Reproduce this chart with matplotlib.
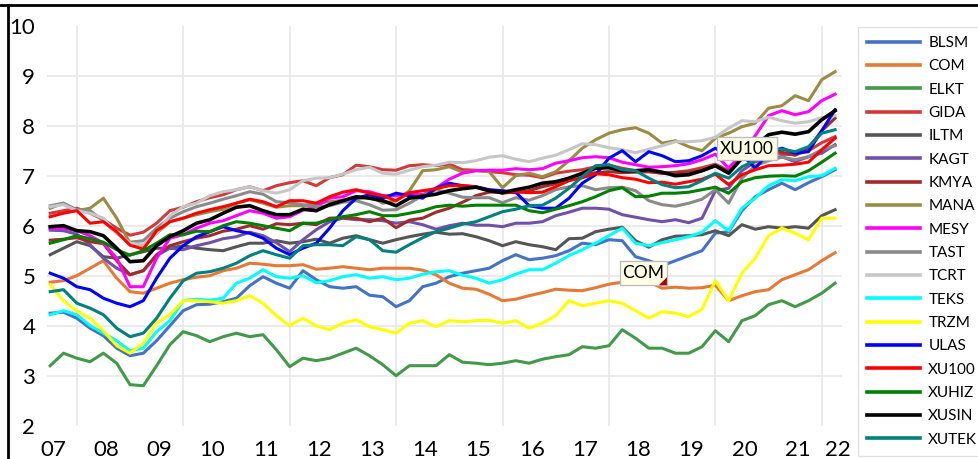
import numpy as np
import matplotlib
matplotlib.use("Agg")
import matplotlib.pyplot as plt
from matplotlib.lines import Line2D
from matplotlib.patches import Rectangle, Polygon

plt.rcParams['font.family'] = ['Lato', 'DejaVu Sans']

# quarterly readings, mid-2007 .. spring 2022
years = 2007.5 + 0.25 * np.arange(60)

BLSM = [4.25, 4.27, 4.15, 3.95, 3.8, 3.55, 3.4, 3.45, 3.7, 4.0, 4.3, 4.42, 4.43, 4.48, 4.55, 4.8, 4.98, 4.85, 4.75, 5.1,
        4.92, 4.78, 4.75, 4.78, 4.61, 4.58, 4.38, 4.5, 4.78, 4.85, 4.98, 5.05, 5.1, 5.15, 5.3, 5.42, 5.32, 5.35, 5.4, 5.5,
        5.65, 5.62, 5.72, 5.7, 5.38, 5.3, 5.2, 5.3, 5.4, 5.5, 5.85, 5.88, 6.3, 6.58, 6.72, 6.85, 6.72, 6.86, 6.98, 7.12]
COM = [4.87, 4.9, 5.0, 5.15, 5.3, 4.95, 4.68, 4.65, 4.75, 4.85, 4.92, 4.97, 5.0, 5.1, 5.15, 5.25, 5.23, 5.2, 5.2, 5.22,
       5.13, 5.15, 5.18, 5.15, 5.12, 5.15, 5.15, 5.15, 5.11, 5.02, 4.85, 4.75, 4.73, 4.63, 4.5, 4.53, 4.6, 4.66, 4.73, 4.71,
       4.7, 4.76, 4.83, 4.87, 4.88, 4.88, 4.75, 4.77, 4.75, 4.76, 4.81, 4.5, 4.6, 4.68, 4.72, 4.92, 5.02, 5.12, 5.3, 5.46]
ELKT = [3.2, 3.45, 3.35, 3.28, 3.45, 3.25, 2.82, 2.8, 3.2, 3.62, 3.88, 3.8, 3.68, 3.78, 3.85, 3.78, 3.82, 3.52, 3.18, 3.35,
        3.3, 3.35, 3.45, 3.55, 3.4, 3.22, 3.0, 3.2, 3.2, 3.2, 3.42, 3.27, 3.25, 3.22, 3.25, 3.3, 3.25, 3.33, 3.38, 3.42,
        3.58, 3.55, 3.6, 3.92, 3.75, 3.55, 3.55, 3.45, 3.45, 3.58, 3.9, 3.68, 4.1, 4.2, 4.42, 4.5, 4.38, 4.5, 4.65, 4.85]
GIDA = [6.25, 6.3, 6.35, 6.25, 6.12, 5.95, 5.81, 5.87, 6.05, 6.3, 6.37, 6.48, 6.56, 6.62, 6.72, 6.78, 6.7, 6.8, 6.86, 6.9,
        6.8, 6.96, 7.02, 7.21, 7.18, 7.12, 7.11, 7.2, 7.22, 7.2, 7.23, 7.12, 7.11, 7.08, 7.06, 7.02, 7.01, 6.96, 7.05, 7.09,
        7.12, 7.18, 7.21, 7.15, 7.1, 7.08, 7.05, 7.07, 7.1, 7.16, 7.23, 7.1, 7.4, 7.48, 7.5, 7.43, 7.42, 7.5, 7.66, 7.78]
ILTM = [5.42, 5.55, 5.68, 5.6, 5.38, 5.35, 5.42, 5.48, 5.55, 5.55, 5.6, 5.55, 5.52, 5.5, 5.58, 5.65, 5.65, 5.7, 5.65, 5.68,
        5.73, 5.65, 5.75, 5.8, 5.72, 5.65, 5.72, 5.78, 5.83, 5.87, 5.83, 5.84, 5.78, 5.7, 5.6, 5.68, 5.62, 5.58, 5.52, 5.74,
        5.75, 5.88, 5.93, 5.97, 5.7, 5.57, 5.72, 5.79, 5.8, 5.82, 5.9, 5.8, 6.02, 5.93, 5.98, 5.95, 5.98, 5.95, 6.2, 6.32]
KAGT = [5.91, 5.9, 5.83, 5.62, 5.35, 5.15, 5.02, 5.1, 5.4, 5.55, 5.52, 5.6, 5.66, 5.74, 5.78, 5.87, 5.8, 5.66, 5.48, 5.72,
        5.92, 6.08, 6.15, 6.12, 6.12, 6.1, 6.05, 6.08, 6.02, 5.93, 6.0, 6.05, 6.01, 6.01, 5.98, 6.05, 6.05, 6.08, 6.2, 6.27,
        6.35, 6.35, 6.33, 6.22, 6.17, 6.12, 6.08, 6.12, 6.06, 6.15, 6.7, 6.75, 7.1, 7.28, 7.35, 7.38, 7.28, 7.38, 7.45, 7.62]
KMYA = [5.71, 5.73, 5.76, 5.68, 5.64, 5.3, 5.02, 5.1, 5.42, 5.6, 5.68, 5.75, 5.8, 5.89, 5.93, 6.0, 5.93, 6.04, 6.02, 6.05,
        6.02, 6.15, 6.16, 6.15, 6.08, 6.15, 5.96, 6.11, 6.15, 6.27, 6.35, 6.47, 6.6, 6.67, 6.68, 6.66, 6.7, 6.78, 6.84, 6.95,
        7.03, 7.06, 7.08, 7.06, 7.07, 7.08, 7.05, 7.06, 7.07, 7.1, 7.2, 7.08, 7.5, 7.52, 7.58, 7.47, 7.41, 7.55, 7.9, 8.15]
MANA = [6.35, 6.45, 6.3, 6.35, 6.55, 6.15, 5.65, 5.6, 5.85, 6.08, 6.15, 6.22, 6.28, 6.33, 6.45, 6.52, 6.45, 6.37, 6.4, 6.4,
        6.45, 6.48, 6.51, 6.52, 6.6, 6.45, 6.5, 6.7, 7.1, 7.12, 7.18, 7.07, 7.1, 7.08, 6.76, 7.0, 7.05, 6.98, 7.08, 7.3,
        7.55, 7.72, 7.85, 7.92, 7.96, 7.85, 7.65, 7.7, 7.58, 7.5, 7.75, 7.85, 7.98, 8.05, 8.35, 8.4, 8.6, 8.5, 8.92, 9.08]
MESY = [5.95, 5.95, 5.9, 5.8, 5.65, 5.35, 4.78, 4.78, 5.35, 5.75, 5.82, 5.95, 6.05, 6.1, 6.2, 6.3, 6.25, 6.15, 6.18, 6.31,
        6.38, 6.55, 6.58, 6.7, 6.68, 6.6, 6.6, 6.65, 6.62, 6.75, 6.93, 7.05, 7.1, 7.11, 7.11, 7.14, 7.12, 7.14, 7.25, 7.3,
        7.36, 7.38, 7.36, 7.27, 7.22, 7.17, 7.18, 7.2, 7.24, 7.32, 7.43, 7.15, 7.45, 7.8, 8.2, 8.3, 8.22, 8.28, 8.5, 8.63]
TAST = [6.4, 6.45, 6.32, 6.3, 6.1, 5.85, 5.67, 5.7, 5.95, 6.15, 6.28, 6.38, 6.45, 6.53, 6.6, 6.68, 6.63, 6.48, 6.46, 6.42,
        6.38, 6.4, 6.47, 6.5, 6.42, 6.31, 6.32, 6.45, 6.6, 6.72, 6.65, 6.57, 6.56, 6.56, 6.46, 6.56, 6.51, 6.6, 6.72, 6.78,
        6.8, 6.72, 6.76, 6.77, 6.7, 6.5, 6.42, 6.39, 6.45, 6.53, 6.72, 6.45, 6.95, 7.2, 7.3, 7.37, 7.32, 7.38, 7.52, 7.6]
TCRT = [6.38, 6.42, 6.3, 6.25, 6.15, 5.85, 5.65, 5.62, 5.85, 6.2, 6.38, 6.45, 6.6, 6.68, 6.72, 6.78, 6.7, 6.65, 6.72, 6.9,
        6.95, 6.96, 7.03, 7.12, 7.17, 7.05, 7.03, 7.11, 7.18, 7.21, 7.27, 7.26, 7.3, 7.37, 7.4, 7.33, 7.28, 7.35, 7.41, 7.52,
        7.64, 7.62, 7.56, 7.52, 7.46, 7.53, 7.6, 7.68, 7.68, 7.7, 7.77, 7.95, 8.1, 8.08, 8.17, 8.1, 8.05, 8.08, 8.16, 8.2]
TEKS = [4.22, 4.3, 4.22, 4.0, 3.85, 3.7, 3.5, 3.55, 3.88, 4.1, 4.5, 4.53, 4.51, 4.55, 4.85, 4.95, 5.12, 4.98, 4.95, 5.0,
        4.86, 4.9, 4.98, 5.02, 4.95, 4.98, 4.92, 4.95, 5.03, 5.08, 5.1, 5.01, 4.95, 4.85, 4.92, 5.03, 5.12, 5.12, 5.25, 5.4,
        5.52, 5.65, 5.8, 5.95, 5.65, 5.6, 5.66, 5.72, 5.78, 5.87, 6.1, 5.9, 6.35, 6.55, 6.8, 6.92, 6.9, 6.98, 7.0, 7.15]
TRZM = [4.82, 4.5, 4.3, 4.15, 3.9, 3.6, 3.45, 3.65, 4.05, 4.22, 4.5, 4.5, 4.48, 4.45, 4.5, 4.6, 4.45, 4.2, 4.0, 4.15,
        4.0, 3.92, 4.05, 4.12, 3.98, 3.92, 3.85, 4.05, 4.1, 3.98, 4.1, 4.08, 4.1, 4.11, 4.05, 4.1, 3.95, 4.05, 4.2, 4.5,
        4.4, 4.45, 4.5, 4.45, 4.3, 4.15, 4.28, 4.25, 4.18, 4.33, 4.9, 4.5, 5.05, 5.35, 5.8, 5.95, 5.85, 5.72, 6.15, 6.15]
ULAS = [5.05, 4.95, 4.78, 4.72, 4.55, 4.45, 4.38, 4.5, 4.95, 5.35, 5.6, 5.78, 5.88, 5.98, 5.9, 5.85, 5.75, 5.55, 5.42, 5.55,
        5.65, 5.95, 6.3, 6.55, 6.62, 6.55, 6.65, 6.6, 6.55, 6.75, 6.85, 6.8, 6.78, 6.72, 6.7, 6.67, 6.4, 6.35, 6.35, 6.55,
        6.85, 7.02, 7.35, 7.5, 7.28, 7.48, 7.4, 7.28, 7.3, 7.4, 7.55, 7.38, 7.42, 7.15, 7.45, 7.55, 7.45, 7.48, 7.9, 8.32]
XU100 = [6.18, 6.25, 6.3, 6.05, 6.08, 5.88, 5.61, 5.53, 5.9, 6.08, 6.15, 6.25, 6.32, 6.38, 6.45, 6.53, 6.48, 6.38, 6.5, 6.5,
         6.45, 6.58, 6.67, 6.72, 6.65, 6.6, 6.5, 6.66, 6.7, 6.74, 6.8, 6.8, 6.78, 6.7, 6.65, 6.68, 6.66, 6.67, 6.78, 6.9,
         6.96, 7.04, 7.02, 6.96, 6.93, 6.86, 6.87, 6.83, 6.88, 6.93, 7.03, 6.82, 7.02, 7.12, 7.2, 7.21, 7.23, 7.27, 7.52, 7.75]
XUHIZ = [5.65, 5.72, 5.8, 5.74, 5.67, 5.52, 5.41, 5.5, 5.65, 5.82, 5.82, 5.89, 5.88, 6.0, 6.08, 6.05, 6.0, 5.95, 5.9, 6.05,
         6.05, 6.12, 6.18, 6.22, 6.28, 6.2, 6.2, 6.25, 6.3, 6.38, 6.41, 6.39, 6.41, 6.41, 6.41, 6.41, 6.3, 6.26, 6.33, 6.4,
         6.48, 6.58, 6.7, 6.76, 6.58, 6.59, 6.65, 6.65, 6.67, 6.72, 6.77, 6.65, 6.88, 6.96, 6.99, 7.0, 6.99, 7.1, 7.27, 7.45]
XUSIN = [5.98, 6.0, 5.9, 5.88, 5.8, 5.55, 5.28, 5.3, 5.6, 5.78, 5.9, 6.05, 6.12, 6.25, 6.37, 6.4, 6.3, 6.22, 6.22, 6.33,
         6.3, 6.42, 6.5, 6.58, 6.55, 6.5, 6.4, 6.55, 6.59, 6.63, 6.7, 6.74, 6.77, 6.7, 6.66, 6.72, 6.77, 6.85, 6.88, 6.95,
         7.05, 7.15, 7.16, 7.1, 7.1, 7.12, 7.07, 7.0, 7.02, 7.1, 7.2, 7.05, 7.35, 7.6, 7.82, 7.87, 7.83, 7.88, 8.12, 8.3]
XUTEK = [4.68, 4.72, 4.45, 4.35, 4.22, 3.95, 3.78, 3.85, 4.15, 4.55, 4.9, 5.05, 5.08, 5.15, 5.25, 5.4, 5.5, 5.42, 5.35, 5.6,
         5.62, 5.62, 5.6, 5.78, 5.72, 5.5, 5.47, 5.62, 5.76, 5.88, 5.95, 6.03, 6.08, 6.18, 6.28, 6.33, 6.4, 6.41, 6.55, 6.75,
         6.98, 7.2, 7.22, 7.12, 7.1, 6.95, 6.82, 6.76, 6.78, 6.9, 7.05, 6.95, 7.18, 7.3, 7.55, 7.53, 7.48, 7.58, 7.85, 7.92]

names = ['BLSM', 'COM', 'ELKT', 'GIDA', 'ILTM', 'KAGT', 'KMYA', 'MANA', 'MESY',
         'TAST', 'TCRT', 'TEKS', 'TRZM', 'ULAS', 'XU100', 'XUHIZ', 'XUSIN', 'XUTEK']
series = [BLSM, COM, ELKT, GIDA, ILTM, KAGT, KMYA, MANA, MESY,
          TAST, TCRT, TEKS, TRZM, ULAS, XU100, XUHIZ, XUSIN, XUTEK]
colors = ['#4472C4', '#E47A35', '#43994A', '#D23A3A', '#555555', '#6F52A6', '#A02B2B', '#9A8C45', '#FF00FF',
          '#8A8A8A', '#C6C6C6', '#00FFFF', '#FFFF00', '#0000FF', '#FF0000', '#008000', '#000000', '#008080']

year_labels = ['07', '08', '09', '10', '11', '12', '13', '14', '15', '16', '17', '18', '19', '20', '21', '22']

fig = plt.figure(figsize=(9.79, 4.59), dpi=100)
ax = fig.add_axes([47 / 979, 1 - 425.7 / 459, 795 / 979, 400 / 459])

for name, vals, c in zip(names, series, colors):
    lw = 2.6 if name == 'XUSIN' else 2.2
    ax.plot(years, vals, color=c, lw=lw, label=name, solid_joinstyle='round')

ax.set_xlim(2007.44, 2022.38)
ax.set_ylim(2, 10)
for s in ax.spines.values():
    s.set_visible(False)

# grid lines: every unit on y, every second year on x
for v in range(3, 10):
    ax.axhline(v, color='#E8E8E8', lw=1.2, zorder=0)
for yr in range(2008, 2023, 2):
    ax.axvline(yr, color='#E8E8E8', lw=1.2, zorder=0)

ax.set_yticks(range(2, 11))
ax.set_yticklabels([str(v) for v in range(2, 11)])
tick_pos = [2007.55 + i for i in range(15)] + [2022.3]
ax.set_xticks(tick_pos)
ax.set_xticklabels(year_labels)
ax.tick_params(axis='both', length=0, labelsize=16, colors='black')
ax.tick_params(axis='y', pad=8.5)
ax.tick_params(axis='x', pad=10)

# callouts
def callout(x0, x1, y0, y1, txt, marker=False):
    ax.add_patch(Rectangle((x0, y0), x1 - x0, y1 - y0, facecolor='#FFFFE6',
                           edgecolor='#BDBDBD', lw=1, zorder=10))
    ax.text((x0 + x1) / 2, (y0 + y1) / 2, txt, ha='center', va='center',
            fontsize=12.5, zorder=11)
    if marker:
        ax.add_patch(Polygon([(x1, y0), (x1, y0 + 0.16), (x1 - 0.15, y0)],
                             closed=True, facecolor='#B00000', edgecolor='none', zorder=12))

callout(2020.03, 2021.16, 7.31, 7.77, 'XU100')
callout(2018.21, 2019.09, 4.81, 5.29, 'COM', marker=True)

leg = fig.legend(loc='upper left', bbox_to_anchor=(858 / 979, 1 - 27 / 459),
                 fontsize=11, frameon=True, fancybox=False, edgecolor='#D9D9D9',
                 handlelength=3.45, handletextpad=0.55, labelspacing=0.61,
                 borderpad=0.6, borderaxespad=0)
leg.get_frame().set_linewidth(1)
for h in leg.get_lines():
    h.set_linewidth(2.6)

# black frame around the picture
fig.add_artist(Line2D([0, 1], [1 - 5 / 459, 1 - 5 / 459], color='black', lw=2, transform=fig.transFigure))
fig.add_artist(Line2D([8 / 979, 8 / 979], [0, 1 - 5 / 459], color='black', lw=2, transform=fig.transFigure))

fig.savefig('out.png', dpi=100)
